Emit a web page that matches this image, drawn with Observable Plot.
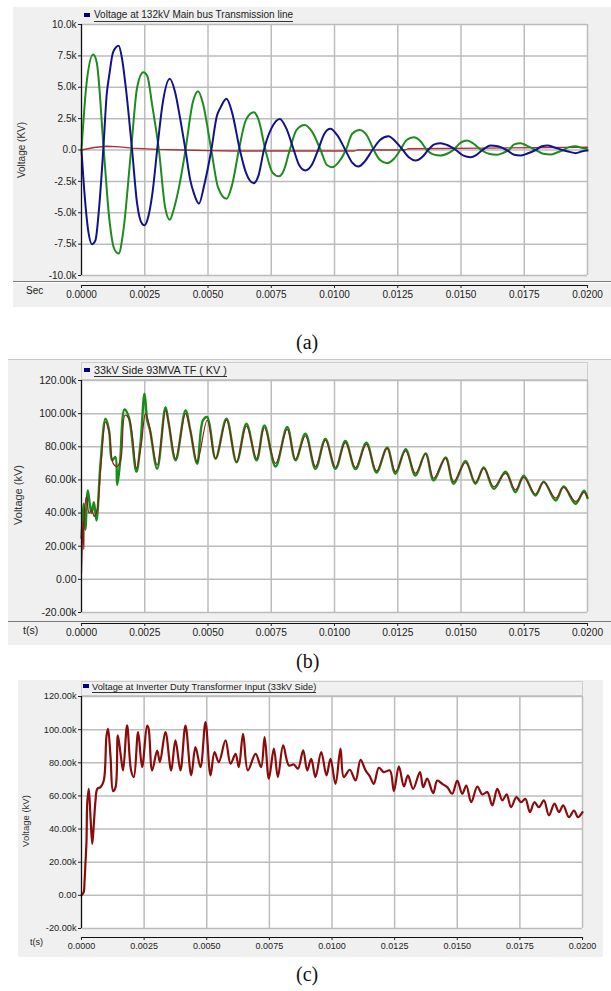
<!DOCTYPE html>
<html><head><meta charset="utf-8">
<script src="https://cdn.jsdelivr.net/npm/d3@7"></script>
<script src="https://cdn.jsdelivr.net/npm/@observablehq/plot@0.6"></script>
<style>
body{margin:0;background:#fff;}
#root{position:relative;width:611px;height:991px;overflow:hidden;font-family:"Liberation Sans",Arial,sans-serif;color:#222;}
.abs{position:absolute;white-space:nowrap;}
.panel{position:absolute;background:#f0f0f0;}
.cap{position:absolute;font-family:"Liberation Serif","Times New Roman",serif;font-size:20px;line-height:20px;color:#111;}
.ylab{position:absolute;transform:translate(-50%,-50%) rotate(-90deg);white-space:nowrap;color:#333;}
.sq{position:absolute;background:#000080;}
.hdr{position:absolute;white-space:nowrap;border-bottom:1px solid #333;color:#222;}
svg{position:absolute;left:0;}
</style></head><body><div id="root"></div>
<script>
// ---------- shared ticks ----------
const timeTicks = [0, 0.0025, 0.005, 0.0075, 0.01, 0.0125, 0.015, 0.0175, 0.02];
const voltTicksA = [-10000, -7500, -5000, -2500, 0, 2500, 5000, 7500, 10000];
const voltTicksBC = [-20000, 0, 20000, 40000, 60000, 80000, 100000, 120000];

// ---------- panel (a): time in ms, voltage in k ----------
const blueAT = [0,0.12,0.25,0.42,0.55,0.7,0.86,1.0,1.1,1.25,1.47,1.6,1.75,2.0,2.2,2.4,2.5,2.6,2.8,2.99,3.2,3.49,3.7,3.9,4.11,4.3,4.45,4.64,4.85,5.13,5.35,5.5,5.73,5.95,6.26,6.5,6.81,7.0,7.21,7.5,7.84,8.1,8.39,8.6,8.85,9.1,9.35,9.6,9.84,10.1,10.43,10.7,10.95,11.2,11.5,11.8,12.13,12.4,12.7,12.95,13.2,13.5,13.7,13.95,14.19,14.45,14.8,15.1,15.38,15.6,15.85,16.17,16.45,16.8,17.1,17.35,17.6,17.95,18.2,18.42,18.7,19.0,19.3,19.53,19.8,20];
const blueAV = [0,-3.5,-6.2,-7.5,-7.2,-4.5,0,4.5,6.0,7.8,8.3,7.3,5.0,0,-4.3,-5.9,-6.0,-5.6,-3.5,0,3.6,5.67,4.6,2.5,0,-2.4,-3.5,-4.28,-2.8,0,2.7,3.4,4.08,3.0,0,-1.8,-2.64,-2.0,0,1.7,2.48,1.7,0,-1.2,-1.63,-1.2,0,1.3,1.69,1.2,0,-1.0,-1.31,-0.9,0,0.8,1.1,0.7,0,-0.6,-0.84,-0.5,0,0.45,0.54,0.4,0,-0.45,-0.57,-0.4,0,0.36,0.3,0,-0.38,-0.44,-0.3,0,0.3,0.36,0.2,0,-0.15,-0.25,-0.1,-0.05];
const greenAT = [0,0.2,0.46,0.6,0.88,1.1,1.3,1.47,1.65,1.96,2.2,2.44,2.6,2.8,3.06,3.3,3.49,3.65,3.85,4.11,4.4,4.61,4.8,5.13,5.4,5.73,5.95,6.22,6.5,6.81,7.0,7.27,7.55,7.8,8.0,8.23,8.5,8.82,9.1,9.45,9.7,9.91,10.15,10.45,10.7,11.0,11.3,11.55,11.8,12.08,12.35,12.6,12.85,13.13,13.4,13.65,13.9,14.19,14.45,14.7,15.0,15.24,15.5,15.8,16.1,16.43,16.7,16.9,17.1,17.35,17.6,17.95,18.25,18.54,18.8,19.05,19.3,19.53,19.8,20];
const greenAV = [0,5.3,7.6,7.0,0,-5.5,-7.9,-8.25,-6.5,0,5.0,6.2,5.9,3.5,0,-4.5,-5.56,-4.7,-3.0,0,3.8,4.68,3.7,0,-3.0,-3.89,-2.8,0,2.4,3.0,2.4,0,-1.8,-2.1,-1.6,0,1.6,2.0,1.5,0,-1.2,-1.37,-1.0,0,1.3,1.6,1.1,0,-0.8,-1.05,-0.7,0,0.8,1.02,0.7,0,-0.35,-0.44,-0.3,0,0.6,0.76,0.5,0,-0.3,-0.38,-0.2,0,0.45,0.54,0.35,0,-0.3,-0.36,-0.2,0,0.25,0.3,0.15,0.05];
const redAT = [0,0.5,1.0,1.5,2.0,3.0,4.0,5.0,6.0,8.0,10.8,10.9,12.8,12.9,16.0,20.0];
const redAV = [0,0.2,0.3,0.25,0.15,0.05,0,-0.05,-0.08,-0.08,-0.08,0,0,0.1,0.15,0.22];

// ---------- panel (b) ----------
const greenBT = [0,0.05,0.09,0.15,0.25,0.33,0.4,0.49,0.59,0.75,0.95,1.09,1.21,1.34,1.41,1.52,1.70,1.87,2.17,2.33,2.49,2.60,2.71,2.99,3.32,3.45,3.72,4.11,4.3,4.57,4.80,4.97,5.30,5.73,6.13,6.52,6.92,7.23,7.67,8.13,8.46,8.85,9.25,9.64,10.04,10.43,10.83,11.26,11.66,12.08,12.41,12.81,13.2,13.6,13.92,14.39,14.71,15.18,15.57,15.9,16.3,16.76,17.15,17.48,17.94,18.27,18.74,19.06,19.53,19.86,20];
const greenBV = [25,38,45.6,30,53.6,45,40,46.6,35.5,69.8,96.9,89.9,71.8,73.8,57,69.9,102.5,97.9,65,81.8,112,95.9,89.9,66.7,103.9,93.9,71.8,101.9,90,69.8,96,97.9,72.8,96.9,70.7,93.9,71.8,92.9,68.1,91.9,71.8,87.9,66.7,84.8,66.7,83.5,66.5,82.5,64.5,79.5,63.7,78.5,62.7,76,59.7,73.5,57.7,71.5,57.7,67.5,54.6,65,52.6,62.5,50.6,59,47.6,56,45.6,53.5,49];
const redBT = [0,0.03,0.06,0.09,0.12,0.2,0.3,0.4,0.5,0.62,0.75,0.95,1.1,1.25,1.4,1.55,1.72,1.9,2.17,2.35,2.53,2.65,2.99,3.32,3.45,3.72,4.11,4.3,4.57,4.97,5.30,5.73,6.13,6.52,6.92,7.23,7.67,8.13,8.46,8.85,9.25,9.64,10.04,10.43,10.83,11.26,11.66,12.08,12.41,12.81,13.2,13.6,13.92,14.39,14.71,15.18,15.57,15.9,16.3,16.76,17.15,17.48,17.94,18.27,18.74,19.06,19.53,19.86,20];
const redBV = [3.6,20,35,18,42,50,40,42,38,42,65,95,88,70,68,72,99,96,67,80,100,95,69,102,94,73,100,90,71,96,73,96,71,92.5,73,91.5,70,90.5,72.5,86.5,68,84,67.5,82.5,67.5,81.5,65.5,79,65,77.5,64,75.5,61,73,59,70.5,58.5,67,56,64,54,61.5,51.5,58.5,49,55.5,47,52.5,49.5];

// ---------- panel (c) ----------
const lineCT = [0,0.09,0.12,0.16,0.2,0.23,0.29,0.36,0.43,0.5,0.56,0.63,0.76,0.89,1.0,1.06,1.16,1.26,1.36,1.45,1.56,1.66,1.82,1.98,2.09,2.26,2.42,2.62,2.68,2.82,3.02,3.13,3.35,3.58,3.75,3.95,4.15,4.38,4.55,4.75,4.95,5.15,5.31,5.48,5.75,5.95,6.15,6.28,6.45,6.64,6.95,7.17,7.31,7.48,7.68,7.84,8.05,8.28,8.48,8.64,8.85,9.01,9.17,9.34,9.57,9.78,9.94,10.14,10.34,10.47,10.71,10.94,11.14,11.34,11.51,11.67,11.87,12.07,12.31,12.47,12.67,12.87,13.03,13.24,13.51,13.64,13.8,14.04,14.2,14.4,14.6,14.8,15.0,15.2,15.36,15.56,15.8,16.0,16.2,16.4,16.6,16.8,16.97,17.15,17.36,17.55,17.72,17.9,18.08,18.26,18.46,18.66,18.88,19.06,19.23,19.46,19.66,19.82,20];
const lineCV = [0,2,8,20,33,56,64.3,47.2,31,45,57.3,64.3,65.3,69.3,96.5,100.5,83.4,62.9,65.3,96.5,85.4,75.4,102.6,75.4,71.4,98.5,77.4,102.5,100.5,75.4,87.4,80.4,98.5,75.4,93.5,75.4,102.5,72.4,89.4,77.4,104.5,72.4,86.4,80.4,93.5,79.4,85.4,77.4,97.5,75.4,85.4,77.4,95.5,70.4,88.5,71.4,90.5,78.4,79,76.4,87.5,75.4,82.4,71.4,86.4,72.4,82.4,67.3,88.5,71.4,75.8,69.3,81.8,75.4,71.8,67.3,77,74.4,75.4,62.9,77.8,65.7,72.4,64.3,74.4,65.3,70.4,61.7,69.3,67.3,65.3,61.3,69.3,61.3,66.3,56.2,65.7,60.9,62.3,54.3,64.3,57.3,60.9,53.2,59.3,56.2,58.3,50.2,56.2,53.2,57.3,48.3,55.3,50.2,54.3,47.2,51.2,47.2,50.2];

const rows = (T, V) => T.map((t, i) => ({t: t / 1000, v: V[i] * 1000}));
const fmtA = d => d === 0 ? "0.0" : (d / 1000).toFixed(1) + "k";
const fmtBC = d => d === 0 ? "0.00" : (d / 1000).toFixed(2) + "k";
const fmtT = d => d.toFixed(4);

const root = document.getElementById("root");
function el(cls, css, text) {
  const d = document.createElement("div");
  d.className = cls;
  Object.assign(d.style, css);
  if (text != null) d.textContent = text;
  root.appendChild(d);
  return d;
}

function panel(cfg) {
  const T = cfg.top;
  const [xL, xR] = cfg.xPx;
  const [yB, yT] = cfg.yPx;
  const xMin = timeTicks[0], xMax = timeTicks[timeTicks.length - 1];
  const yt = cfg.yTicks, yMin = yt[0], yMax = yt[yt.length - 1];
  const marks = [
    Plot.rect([0], {x1: () => xMin, x2: () => xMax, y1: () => yMin, y2: () => yMax, fill: "white"}),
    Plot.ruleX(timeTicks, {y1: () => yMin, y2: () => yMax, stroke: "#bcbcbc", strokeWidth: 1.5}),
    Plot.ruleY(yt, {x1: () => xMin, x2: () => xMax, stroke: "#bcbcbc", strokeWidth: 1.5}),
    ...cfg.lines.map(l => Plot.line(l.data, {x: "t", y: "v", stroke: l.color, strokeWidth: l.width, curve: l.curve || "linear", strokeLinejoin: "round"})),
    Plot.ruleX([xMin], {y1: () => yMin, y2: () => yMax, stroke: "#111", strokeWidth: 1.2}),
    Plot.frame({anchor: "bottom", stroke: "#111", strokeWidth: 1.2}),
    Plot.axisX(timeTicks, {anchor: "bottom", tickSize: 3, tickPadding: 2, tickFormat: fmtT, label: null, fontSize: cfg.xFont}),
    Plot.axisY(yt, {anchor: "left", tickSize: 3, tickPadding: 2, tickFormat: cfg.fmtY, label: null, fontSize: cfg.yFont})
  ];
  const svg = Plot.plot({
    width: 611, height: cfg.height,
    marginLeft: xL, marginRight: 611 - xR,
    marginTop: yT - T, marginBottom: cfg.height - (cfg.axisY - T),
    style: {background: "transparent", overflow: "visible", fontFamily: "'Liberation Sans', Arial, sans-serif", color: "#222"},
    x: {domain: [xMin, xMax], range: [xL, xR]},
    y: {domain: [yMin, yMax], range: [yB - T, yT - T]},
    marks
  });
  svg.style.top = T + "px";
  root.appendChild(svg);
}

// ===== Panel (a) =====
el("panel", {left: "13px", top: "7px", width: "598px", height: "300px"});
el("abs", {left: "13px", top: "281px", width: "598px", height: "1px", background: "#7a7a7a"});
el("abs", {left: "13px", top: "282px", width: "598px", height: "1px", background: "#ffffff"});
panel({
  top: 0, height: 310, xPx: [81, 587], yPx: [275, 24], axisY: 285,
  yTicks: voltTicksA, fmtY: fmtA, xFont: 10, yFont: 10,
  lines: [
    {data: rows(redAT, redAV), color: "#a83232", width: 1.3},
    {data: rows(greenAT, greenAV), color: "#1c8c1c", width: 2, curve: "monotone-x"},
    {data: rows(blueAT, blueAV), color: "#12128c", width: 2, curve: "monotone-x"}
  ]
});
el("sq", {left: "84px", top: "13px", width: "6px", height: "4px"});
el("hdr", {left: "94px", top: "9px", fontSize: "10px", lineHeight: "11px", paddingBottom: "1px"}, "Voltage at 132kV Main bus Transmission line");
el("abs", {left: "26px", top: "285px", fontSize: "10px", lineHeight: "11px"}, "Sec");
el("ylab", {left: "21px", top: "150px", fontSize: "10px"}, "Voltage (KV)");
el("cap", {left: "296px", top: "332px"}, "(a)");

// ===== Panel (b) =====
el("panel", {left: "8px", top: "359px", width: "603px", height: "285px", borderTop: "1px solid #c8c8c8"});
el("abs", {left: "81px", top: "362px", width: "505px", height: "16px", border: "1px solid #cdcdcd", background: "#f0f0f0"});
el("abs", {left: "8px", top: "621px", width: "603px", height: "1px", background: "#7a7a7a"});
panel({
  top: 350, height: 300, xPx: [81, 587], yPx: [612, 380], axisY: 623,
  yTicks: voltTicksBC, fmtY: fmtBC, xFont: 10.2, yFont: 10.5,
  lines: [
    {data: rows(greenBT, greenBV), color: "#1a8c1a", width: 2.4, curve: "catmull-rom"},
    {data: rows(redBT, redBV), color: "#8e1b1b", width: 1.2, curve: "catmull-rom"}
  ]
});
el("sq", {left: "84px", top: "368px", width: "6px", height: "4px"});
el("hdr", {left: "94px", top: "364px", fontSize: "10.8px", lineHeight: "12px", paddingBottom: "0px"}, "33kV Side 93MVA TF ( KV )");
el("abs", {left: "23px", top: "624px", fontSize: "10.5px", lineHeight: "12px"}, "t(s)");
el("ylab", {left: "18px", top: "495px", fontSize: "11px"}, "Voltage (kV)");
el("cap", {left: "296px", top: "651px"}, "(b)");

// ===== Panel (c) =====
el("panel", {left: "18px", top: "680px", width: "585px", height: "277px"});
el("abs", {left: "81px", top: "681px", width: "500px", height: "13px", border: "1px solid #cdcdcd", background: "#f0f0f0"});
panel({
  top: 670, height: 290, xPx: [81, 582], yPx: [928, 696], axisY: 937,
  yTicks: voltTicksBC, fmtY: fmtBC, xFont: 9, yFont: 9.2,
  lines: [
    {data: rows(lineCT, lineCV), color: "#8b0a0a", width: 2.2, curve: "catmull-rom"}
  ]
});
el("sq", {left: "83px", top: "684px", width: "6px", height: "4px"});
el("hdr", {left: "92px", top: "682px", fontSize: "9.3px", lineHeight: "10px", paddingBottom: "0px"}, "Voltage at Inverter Duty Transformer Input (33kV Side)");
el("abs", {left: "30px", top: "937px", fontSize: "9px", lineHeight: "11px"}, "t(s)");
el("ylab", {left: "25px", top: "821px", fontSize: "9.5px"}, "Voltage (kV)");
el("cap", {left: "296px", top: "964px"}, "(c)");
</script>
</body></html>
